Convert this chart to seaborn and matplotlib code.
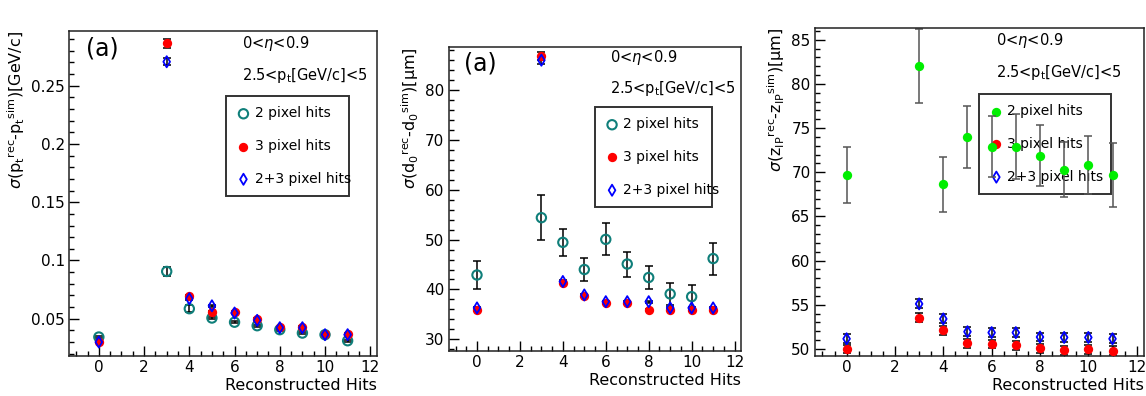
import matplotlib
matplotlib.use("Agg")
import matplotlib.pyplot as plt
import seaborn as sns
import pandas as pd
from matplotlib.ticker import MultipleLocator

hits = [0, 3, 4, 5, 6, 7, 8, 9, 10, 11]

# panel 1: sigma(pt)
pt_2pix = [0.0343, 0.0906, 0.0586, 0.0506, 0.047, 0.044, 0.0406, 0.0377, 0.0363, 0.0311]
pt_3pix = [0.030, 0.2864, 0.0695, 0.056, 0.056, 0.0497, 0.0429, 0.0429, 0.0369, 0.0369]
pt_23pix = [0.030, 0.2706, 0.0672, 0.0611, 0.0549, 0.0486, 0.0423, 0.0423, 0.0363, 0.0363]
pt_2pix_err = [0.001, 0.0035, 0.003, 0.001, 0.001, 0.001, 0.001, 0.001, 0.001, 0.001]
pt_3pix_err = [0.0005, 0.004, 0.001, 0.001, 0.001, 0.001, 0.001, 0.001, 0.001, 0.001]
pt_23pix_err = [0.0005, 0.003, 0.001, 0.001, 0.001, 0.001, 0.001, 0.001, 0.001, 0.001]

# panel 2: sigma(d0)
d0_2pix = [42.9, 54.4, 49.45, 44.0, 50.05, 45.1, 42.4, 39.1, 38.55, 46.2]
d0_3pix = [35.95, 86.9, 41.3, 38.6, 37.3, 37.3, 35.95, 35.95, 35.95, 35.95]
d0_23pix = [36.3, 86.0, 41.6, 38.9, 37.55, 37.55, 37.55, 36.3, 36.3, 36.3]
d0_2pix_err = [2.8, 4.5, 2.7, 2.3, 3.2, 2.5, 2.3, 2.2, 2.4, 3.2]
d0_3pix_err = [0.2, 0.8, 0.3, 0.2, 0.2, 0.2, 0.2, 0.2, 0.2, 0.2]
d0_23pix_err = [0.2, 0.7, 0.3, 0.2, 0.2, 0.2, 0.2, 0.2, 0.2, 0.2]

# panel 3: sigma(z_IP)
z_2pix = [69.7, 82.05, 68.65, 74.0, 72.9, 72.9, 71.9, 70.3, 70.8, 69.7]
z_3pix = [50.0, 53.55, 52.1, 50.65, 50.55, 50.4, 50.05, 49.85, 49.95, 49.8]
z_23pix = [51.15, 55.1, 53.4, 51.95, 51.85, 51.85, 51.35, 51.3, 51.3, 51.15]
z_2pix_err = [3.2, 4.15, 3.1, 3.55, 3.45, 3.7, 3.4, 3.1, 3.3, 3.6]
z_3pix_err = [0.5, 0.5, 0.5, 0.5, 0.5, 0.5, 0.5, 0.5, 0.5, 0.5]
z_23pix_err = [0.5, 0.5, 0.5, 0.5, 0.5, 0.5, 0.5, 0.5, 0.5, 0.5]

labels = ["2 pixel hits", "3 pixel hits", "2+3 pixel hits"]

sns.set_style("white")
plt.rcParams["font.family"] = ["DejaVu Sans"]
plt.rcParams["mathtext.fontset"] = "dejavusans"
plt.rcParams["text.color"] = "black"
plt.rcParams["axes.labelcolor"] = "black"
plt.rcParams["xtick.color"] = "black"
plt.rcParams["ytick.color"] = "black"

fig = plt.figure(figsize=(11.46, 3.96), dpi=100)
axes = [
    fig.add_axes([0.0602, 0.101, 0.2688, 0.8207]),
    fig.add_axes([0.3915, 0.1136, 0.2551, 0.7684]),
    fig.add_axes([0.7109, 0.101, 0.2873, 0.8275]),
]

teal = "#0f7f7a"
red = "#ff0000"
blue = "#0000ff"
green = "#00ee00"


def draw_series(ax, y, err, style, label, ecolor="black"):
    df = pd.DataFrame({"hits": hits, "val": y})
    ax.errorbar(df["hits"], df["val"], yerr=err, fmt="none", ecolor=ecolor,
                elinewidth=1.1, capsize=3, capthick=1.1, zorder=2)
    sns.scatterplot(data=df, x="hits", y="val", ax=ax, label=label, zorder=3,
                    **style)


open_circle = dict(marker="o", s=45, facecolor="none", edgecolor=teal, linewidth=1.5)
red_dot = dict(marker="o", s=45, color=red, edgecolor=red, linewidth=0)
blue_diamond = dict(marker="d", s=32, facecolor="none", edgecolor=blue, linewidth=1.3)
green_dot = dict(marker="o", s=45, color=green, edgecolor=green, linewidth=0)

# panel 1
ax = axes[0]
draw_series(ax, pt_2pix, pt_2pix_err, open_circle, labels[0])
draw_series(ax, pt_3pix, pt_3pix_err, red_dot, labels[1])
draw_series(ax, pt_23pix, pt_23pix_err, blue_diamond, labels[2])
ax.set_ylim(0.018, 0.297)
ax.yaxis.set_major_locator(MultipleLocator(0.05))
ax.yaxis.set_minor_locator(MultipleLocator(0.01))
ax.set_yticks([0.05, 0.1, 0.15, 0.2, 0.25])
ax.set_yticklabels(["0.05", "0.1", "0.15", "0.2", "0.25"])
ax.set_ylabel(r"$\sigma$(p$_{\rm t}$$^{\rm rec}$-p$_{\rm t}$$^{\rm sim}$)[GeV/c]")

# panel 2
ax = axes[1]
draw_series(ax, d0_2pix, d0_2pix_err, open_circle, labels[0])
draw_series(ax, d0_3pix, d0_3pix_err, red_dot, labels[1])
draw_series(ax, d0_23pix, d0_23pix_err, blue_diamond, labels[2])
ax.set_ylim(27.65, 88.7)
ax.yaxis.set_major_locator(MultipleLocator(10))
ax.yaxis.set_minor_locator(MultipleLocator(2))
ax.set_ylabel(r"$\sigma$(d$_0$$^{\rm rec}$-d$_0$$^{\rm sim}$)[μm]")

# panel 3
ax = axes[2]
draw_series(ax, z_2pix, z_2pix_err, green_dot, labels[0], ecolor="#555555")
draw_series(ax, z_3pix, z_3pix_err, red_dot, labels[1])
draw_series(ax, z_23pix, z_23pix_err, blue_diamond, labels[2])
ax.set_ylim(49.2, 86.3)
ax.yaxis.set_major_locator(MultipleLocator(5))
ax.yaxis.set_minor_locator(MultipleLocator(1))
ax.set_ylabel(r"$\sigma$(z$_{\rm IP}$$^{\rm rec}$-z$_{\rm IP}$$^{\rm sim}$)[μm]")

text_pos = [(0.562, 0.963, 0.862), (0.552, 0.963, 0.864), (0.55, 0.962, 0.865)]
legend_pos = [(0.51, 0.80, 0.40), (0.4995, 0.802, 0.40), (0.499, 0.80, 0.40)]

for i, ax in enumerate(axes):
    ax.set_xlim(-1.32, 12.3)
    ax.xaxis.set_major_locator(MultipleLocator(2))
    ax.xaxis.set_minor_locator(MultipleLocator(0.5))
    ax.tick_params(axis="both", which="major", direction="in", length=7,
                   width=1, labelsize=11, left=True, bottom=True, pad=3)
    ax.tick_params(axis="both", which="minor", direction="in", length=3.5,
                   width=1, left=True, bottom=True)
    for sp in ax.spines.values():
        sp.set_color("#222222")
        sp.set_linewidth(1.1)
    ax.set_xlabel("Reconstructed Hits", fontsize=11.5, loc="right", labelpad=2)
    ax.set_ylabel(ax.get_ylabel(), fontsize=11.5, loc="top", labelpad=3)
    tx, ty1, ty2 = text_pos[i]
    ax.text(tx, ty1, r"0<$\eta$<0.9", transform=ax.transAxes, fontsize=10.5,
            va="center", ha="left")
    ax.text(tx, ty2, r"2.5<p$_{\rm t}$[GeV/c]<5", transform=ax.transAxes,
            fontsize=10.5, va="center", ha="left")
    if i < 2:
        ax.text(0.055 if i == 0 else 0.051, 0.945, "(a)", transform=ax.transAxes,
                fontsize=17, va="center", ha="left")
    lx, ly, lw = legend_pos[i]
    leg = ax.legend(loc="upper left", bbox_to_anchor=(lx, ly, lw, 0.0),
                    mode="expand", fontsize=10, frameon=True, fancybox=False,
                    edgecolor="black", borderpad=0.75, labelspacing=1.35,
                    handletextpad=0.3, handlelength=1.0, borderaxespad=0)
    leg.get_frame().set_linewidth(1.4)
    leg.get_frame().set_facecolor("none")
    leg.set_zorder(1)

fig.savefig("out.png", dpi=100)
